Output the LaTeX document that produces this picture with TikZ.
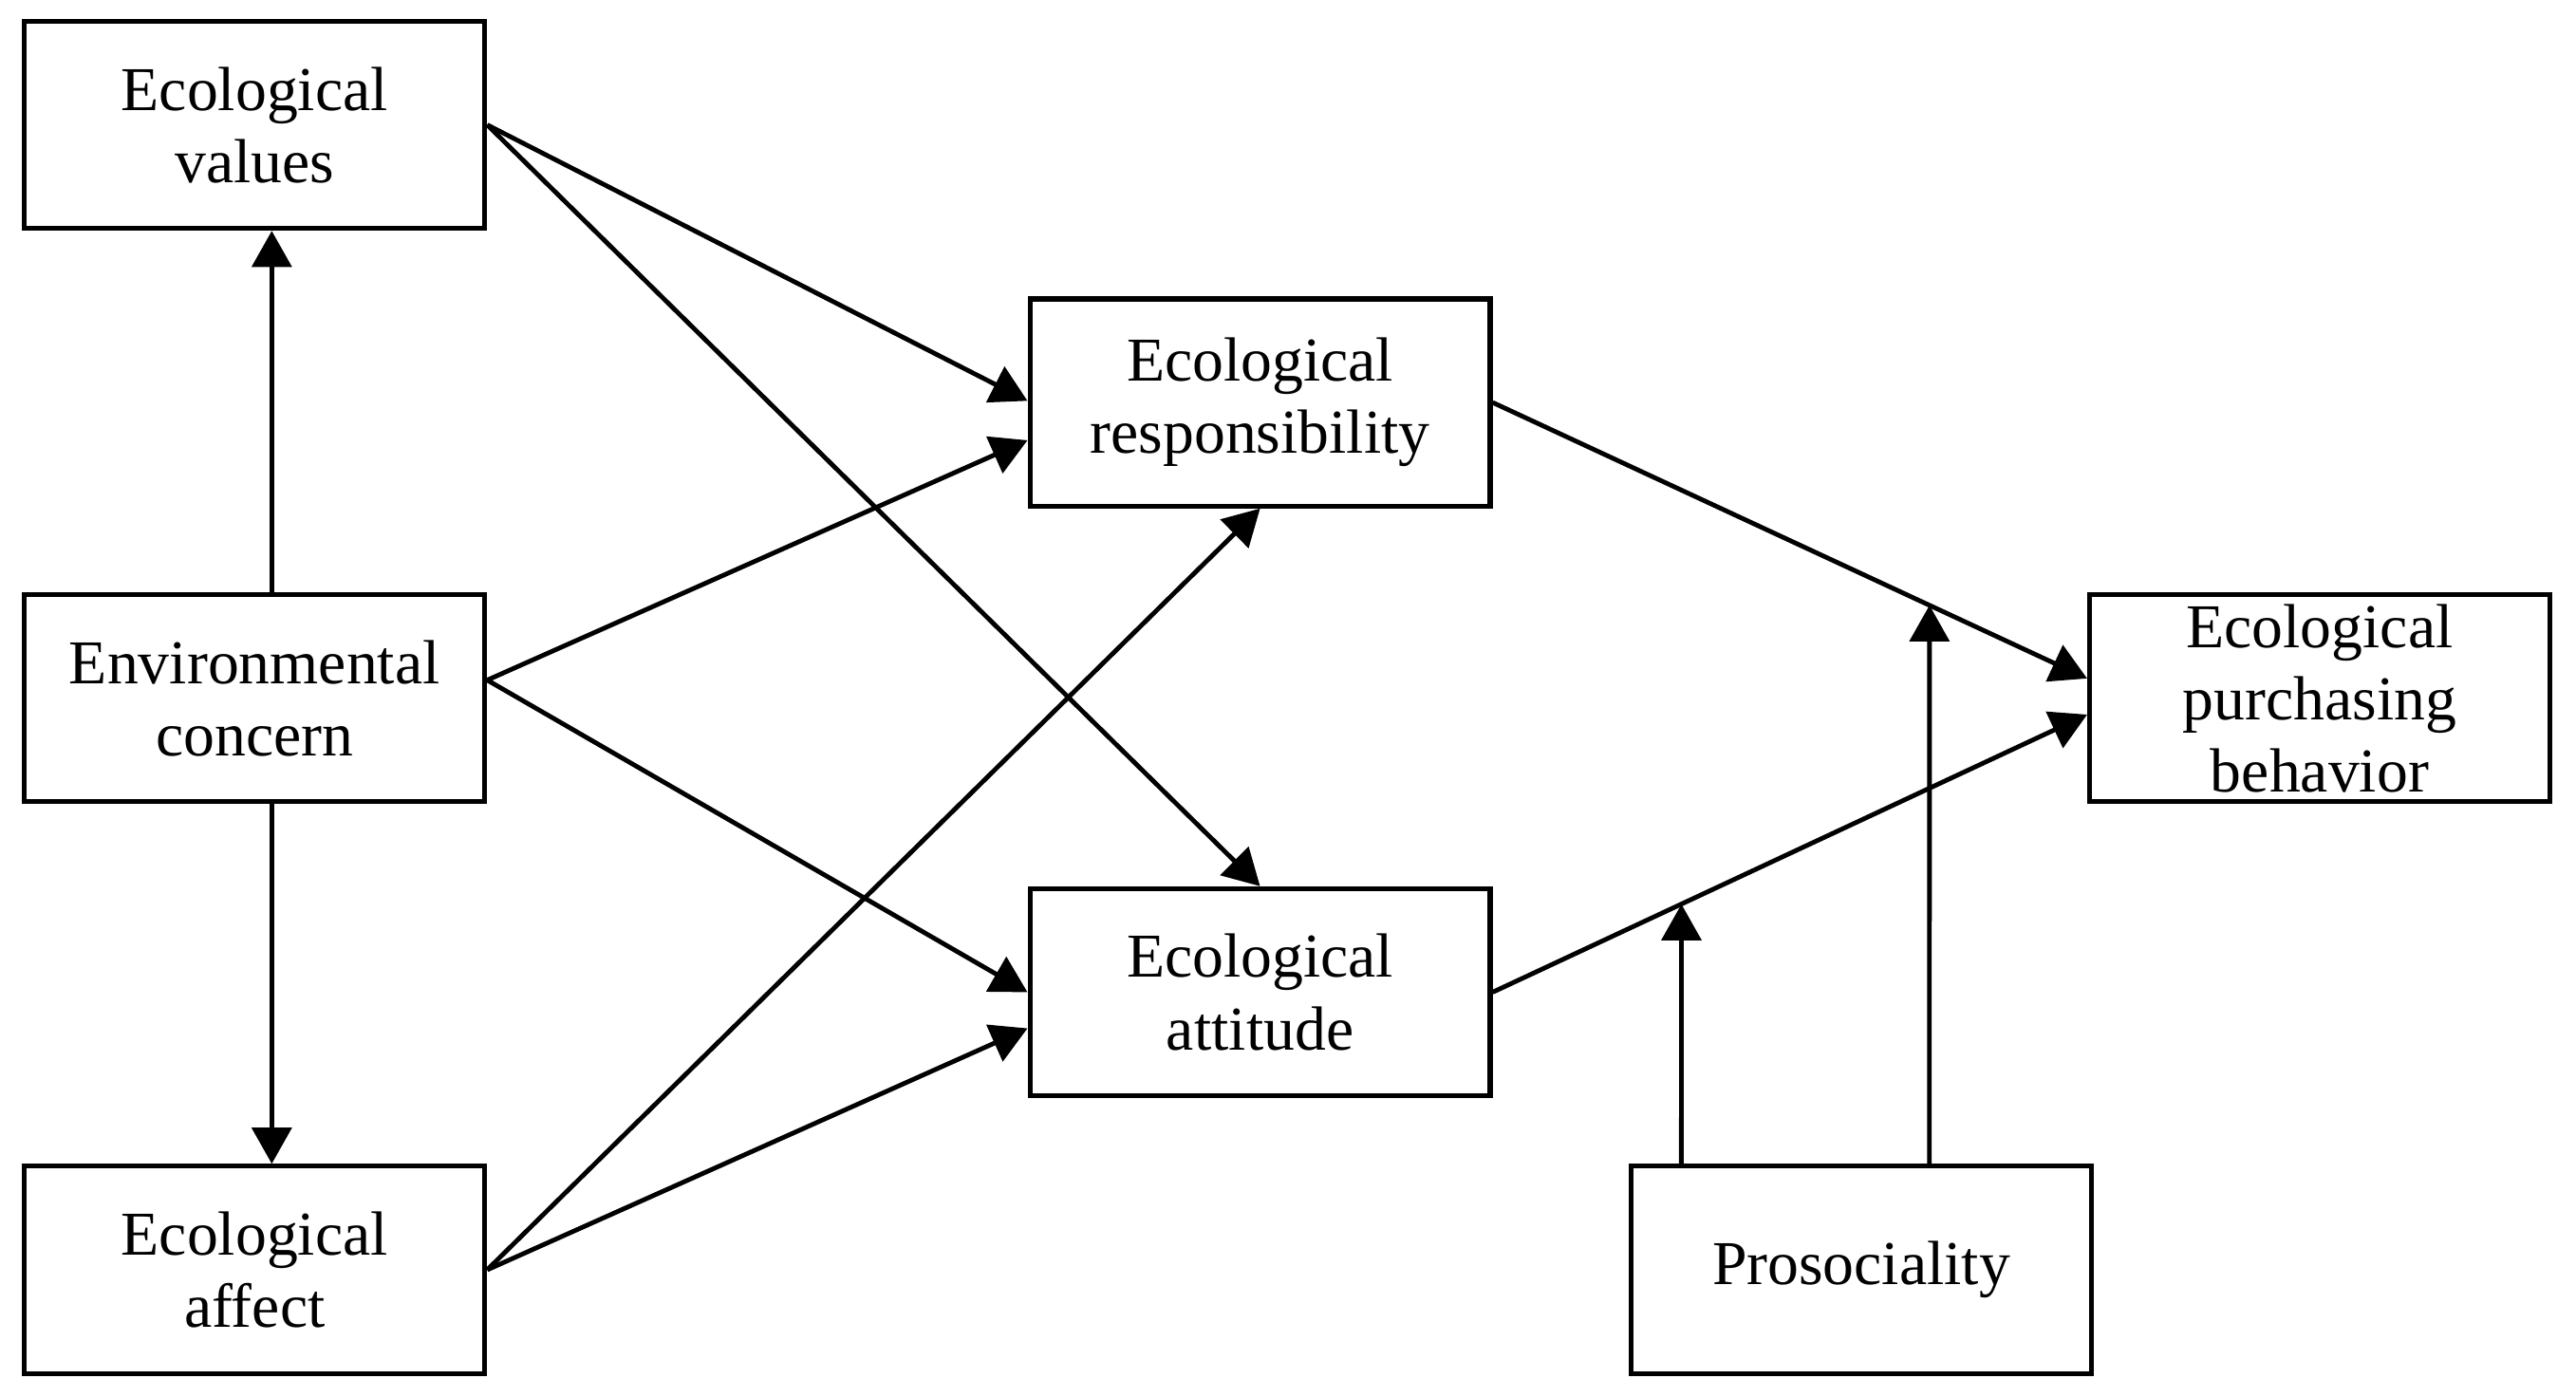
\documentclass[tikz,border=0pt]{standalone}
\usepackage{fontspec}
\setmainfont{Liberation Serif}
\usetikzlibrary{arrows.meta,calc}
\begin{document}
\begin{tikzpicture}[x=0.01cm,y=-0.01cm,
  box/.style={draw, line width=0.85pt, minimum width=2.8cm, minimum height=1.26cm,
    inner sep=0pt, align=center, font=\fontsize{10.8}{12.5}\selectfont},
  arr/.style={line width=0.8pt, -{Triangle[length=0.22cm,width=0.24cm]}}]
\useasboundingbox (0,0) rectangle (1568,850);
\node[box] (val) at (155,76) {Ecological\\values};
\node[box] (env) at (155,425) {Environmental\\concern};
\node[box] (aff) at (155,773) {Ecological\\affect};
\node[box] (resp) at (767,245) {Ecological\\responsibility};
\node[box] (att) at (767,604) {Ecological\\attitude};
\node[box] (pur) at (1412,425) {Ecological\\purchasing\\behavior};
\node[box] (pro) at (1133,773) {Prosociality};
% anchor points
\coordinate (envT) at ($(env.north west)+(152,0)$);
\coordinate (valB) at ($(val.south west)+(152,0)$);
\coordinate (envB) at ($(env.south west)+(152,0)$);
\coordinate (affT) at ($(aff.north west)+(152,0)$);
\coordinate (envE) at ($(env.east)+(0,-11)$);
\coordinate (respL1) at ($(resp.west)+(0,-1)$);
\coordinate (respL2) at ($(resp.west)+(0,23)$);
\coordinate (attL2) at ($(att.west)+(0,22)$);
\coordinate (purL1) at ($(pur.west)+(0,-12)$);
\coordinate (purL2) at ($(pur.west)+(0,10)$);
\coordinate (p1) at ($(pro.north west)+(32,0)$);
\coordinate (p1u) at ($(p1)+(0,-300)$);
\coordinate (p2) at ($(pro.north west)+(183,0)$);
\coordinate (p2u) at ($(p2)+(0,-500)$);
\coordinate (m1) at (intersection of att.east--purL2 and p1--p1u);
\coordinate (m2) at (intersection of resp.east--purL1 and p2--p2u);
% connectors
\draw[arr] (envT) -- (valB);
\draw[arr] (envB) -- (affT);
\draw[arr] (val.east) -- (respL1);
\draw[arr] (val.east) -- (att.north);
\draw[arr] (envE) -- (respL2);
\draw[arr] (envE) -- (att.west);
\draw[arr] (aff.east) -- (resp.south);
\draw[arr] (aff.east) -- (attL2);
\draw[arr] (resp.east) -- (purL1);
\draw[arr] (att.east) -- (purL2);
\draw[arr] (p1) -- (m1);
\draw[arr] (p2) -- (m2);
\end{tikzpicture}
\end{document}
